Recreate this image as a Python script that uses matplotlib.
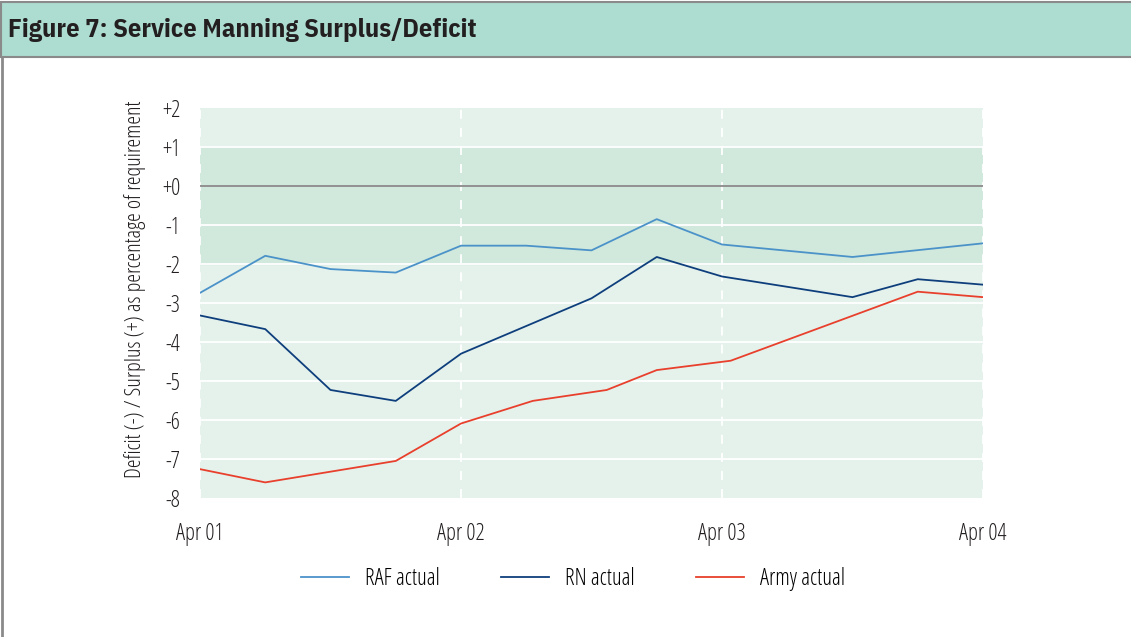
import matplotlib.pyplot as plt
from matplotlib.patches import Rectangle
from matplotlib.lines import Line2D

# months since Apr 01
raf_months = [0, 3, 6, 9, 12, 15, 18, 21, 24, 30, 36]
raf_values = [-2.74, -1.79, -2.13, -2.22, -1.53, -1.53, -1.65, -0.85, -1.50, -1.82, -1.47]

rn_months = [0, 3, 6, 9, 12, 18, 21, 24, 30, 33, 36]
rn_values = [-3.32, -3.67, -5.23, -5.51, -4.30, -2.88, -1.82, -2.32, -2.85, -2.39, -2.53]

army_months = [0, 3, 9, 12, 15.3, 18.7, 21, 24.4, 33, 36]
army_values = [-7.26, -7.60, -7.05, -6.09, -5.51, -5.23, -4.72, -4.48, -2.71, -2.85]

tick_months = [0, 12, 24, 36]
tick_labels = ["Apr 01", "Apr 02", "Apr 03", "Apr 04"]
y_ticks = [2, 1, 0, -1, -2, -3, -4, -5, -6, -7, -8]
y_labels = ["+2", "+1", "+0", "-1", "-2", "-3", "-4", "-5", "-6", "-7", "-8"]

plt.rcParams['font.family'] = ['Open Sans', 'DejaVu Sans']
plt.rcParams['font.stretch'] = 'condensed'
plt.rcParams['font.weight'] = 300

W, H = 1131, 637
fig = plt.figure(figsize=(W / 100, H / 100), dpi=100)

# title bar and frame
fig.patches.append(Rectangle((1 / W, 1 - 57 / H), 1.2, 55 / H, transform=fig.transFigure,
                             facecolor='#addcd0', edgecolor='#8a8a8a', linewidth=1.5))
fig.lines.append(Line2D([1.5 / W, 1.5 / W], [0, 1 - 57 / H], transform=fig.transFigure,
                        color='#8a8a8a', linewidth=2))
fig.text(8 / W, 1 - 30 / H, "Figure 7: Service Manning Surplus/Deficit", fontsize=19,
         fontweight='bold', color='#231f20', va='center', ha='left',
         family=['IBM Plex Sans Condensed', 'DejaVu Sans'])

ax = fig.add_axes([200 / W, 1 - 498 / H, 783 / W, 390 / H])
ax.set_xlim(0, 36)
ax.set_ylim(-8, 2)
ax.set_facecolor('#e5f2ec')
ax.axhspan(-2, 1, color='#d0e9dc', zorder=0)
for y in range(-7, 2):
    ax.axhline(y, color='white', linewidth=1.3, zorder=1)
for m in tick_months:
    ax.axvline(m, color='white', linewidth=1.3, linestyle=(0, (5, 5)), zorder=1)
ax.axhline(0, color='#7f7f7f', linewidth=1.2, zorder=2)

ax.plot(raf_months, raf_values, color='#4b92c9', linewidth=1.3, label='RAF actual', zorder=3)
ax.plot(rn_months, rn_values, color='#0e3f7c', linewidth=1.3, label='RN actual', zorder=3)
ax.plot(army_months, army_values, color='#e8402c', linewidth=1.3, label='Army actual', zorder=3)

for s in ax.spines.values():
    s.set_visible(False)
ax.set_xticks(tick_months)
ax.set_xticklabels(tick_labels)
ax.set_yticks(y_ticks)
ax.set_yticklabels(y_labels)
ax.tick_params(length=0, labelsize=16.4, colors='#231f20')
ax.tick_params(axis='x', pad=17)
ax.tick_params(axis='y', pad=14)
ax.set_ylabel("Deficit (-) / Surplus (+) as percentage of requirement", fontsize=16,
              color='#231f20')
ax.yaxis.set_label_coords(-0.069, 0.535)

fig.legend(loc='center', bbox_to_anchor=(573 / W, 1 - 579 / H), ncol=3, frameon=False,
           fontsize=16.4, handlelength=2.1, columnspacing=2.7, handletextpad=0.7)

fig.savefig('out.png', dpi=100)
